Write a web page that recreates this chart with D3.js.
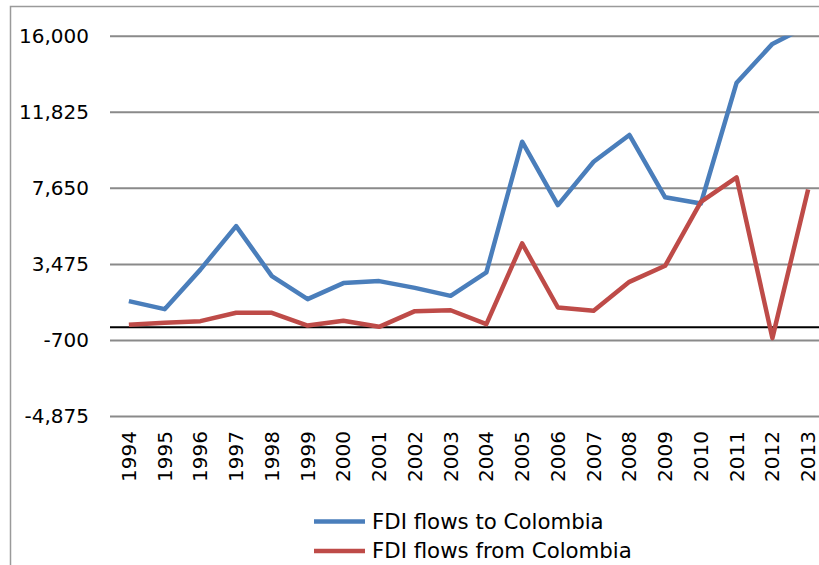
<!DOCTYPE html>
<html>
<head>
<meta charset="utf-8">
<script src="https://cdn.jsdelivr.net/npm/d3@7"></script>
<style>
  body { margin: 0; background: #fff; }
  svg { display: block; font-family: "DejaVu Sans", Verdana, sans-serif; }
</style>
</head>
<body>
<div id="chart"></div>
<script>
// Years on the category axis
var years = [1994, 1995, 1996, 1997, 1998, 1999, 2000, 2001, 2002, 2003,
             2004, 2005, 2006, 2007, 2008, 2009, 2010, 2011, 2012, 2013];

// FDI flows, USD millions
var flowsTo = [1430, 990, 3160, 5550, 2800, 1540, 2420, 2530, 2160, 1720,
               3010, 10180, 6700, 9080, 10550, 7130, 6790, 13420, 15550, 16550];
var flowsFrom = [130, 240, 330, 790, 790, 90, 350, 20, 880, 930,
                 165, 4600, 1080, 900, 2490, 3370, 6880, 8220, -600, 7560];

// Value axis ticks
var yTicks = [-4875, -700, 3475, 7650, 11825, 16000];

var seriesNames = ["FDI flows to Colombia", "FDI flows from Colombia"];
var seriesColors = ["#4a7ebb", "#be4b48"];

var W = 819, H = 565;
var plot = {left: 111, right: 826, top: 35.7, bottom: 416};
var FONT = '"DejaVu Sans", Verdana, sans-serif';

var svg = d3.select("#chart").append("svg")
    .attr("width", W)
    .attr("height", H);

// outer chart frame (cut off on the right and bottom)
svg.append("rect")
    .attr("x", 10.5).attr("y", 6.5)
    .attr("width", W + 20).attr("height", H + 20)
    .attr("fill", "none")
    .attr("stroke", "#9a9a9a")
    .attr("stroke-width", 1.5);

var x = d3.scaleBand()
    .domain(years)
    .range([plot.left, plot.right]);

var y = d3.scaleLinear()
    .domain([-4875, 16000])
    .range([plot.bottom, plot.top]);

var fmt = d3.format(",");

// y axis with gridlines
var yAxis = svg.append("g")
    .attr("transform", "translate(" + (plot.left - 1) + ",0)")
    .call(d3.axisLeft(y)
        .tickValues(yTicks)
        .tickFormat(function(d) { return fmt(d).replace("\u2212", "-"); })
        .tickSizeInner(-(W - plot.left + 10))
        .tickSizeOuter(0)
        .tickPadding(21))
    .attr("font-family", FONT)
    .attr("font-size", 20);
yAxis.select(".domain").remove();
yAxis.selectAll(".tick line")
    .attr("stroke", "#8a8a8a")
    .attr("stroke-width", 2);
yAxis.selectAll(".tick text")
    .attr("fill", "#000");

// x axis labels, rotated
var xAxis = svg.append("g")
    .attr("transform", "translate(0," + (plot.bottom + 15) + ")")
    .call(d3.axisBottom(x).tickSize(0).tickPadding(0))
    .attr("font-family", FONT)
    .attr("font-size", 20);
xAxis.select(".domain").remove();
xAxis.selectAll(".tick text")
    .attr("fill", "#000")
    .attr("text-anchor", "end")
    .attr("y", 0)
    .attr("dy", "0.35em")
    .attr("transform", "rotate(-90)");

// zero line
svg.append("line")
    .attr("x1", plot.left - 1).attr("x2", W)
    .attr("y1", y(0)).attr("y2", y(0))
    .attr("stroke", "#000")
    .attr("stroke-width", 2);

// clip lines to the plot area
svg.append("clipPath").attr("id", "plotClip")
    .append("rect")
    .attr("x", plot.left - 1).attr("y", plot.top)
    .attr("width", W).attr("height", plot.bottom - plot.top + 40);

var line = d3.line()
    .x(function(d, i) { return x(years[i]) + x.bandwidth() / 2; })
    .y(function(d) { return y(d); });

[flowsTo, flowsFrom].forEach(function(vals, i) {
    svg.append("path")
        .datum(vals)
        .attr("clip-path", "url(#plotClip)")
        .attr("fill", "none")
        .attr("stroke", seriesColors[i])
        .attr("stroke-width", 4.5)
        .attr("stroke-linejoin", "round")
        .attr("d", line);
});

// legend
var legend = svg.append("g");
seriesNames.forEach(function(name, i) {
    var ly = 521.5 + i * 29.5;
    legend.append("line")
        .attr("x1", 314).attr("x2", 365)
        .attr("y1", ly).attr("y2", ly)
        .attr("stroke", seriesColors[i])
        .attr("stroke-width", 4.5);
    legend.append("text")
        .attr("x", 372).attr("y", ly)
        .attr("dy", "0.35em")
        .style("font-size", "21.3px")
        .text(name);
});
</script>
</body>
</html>
